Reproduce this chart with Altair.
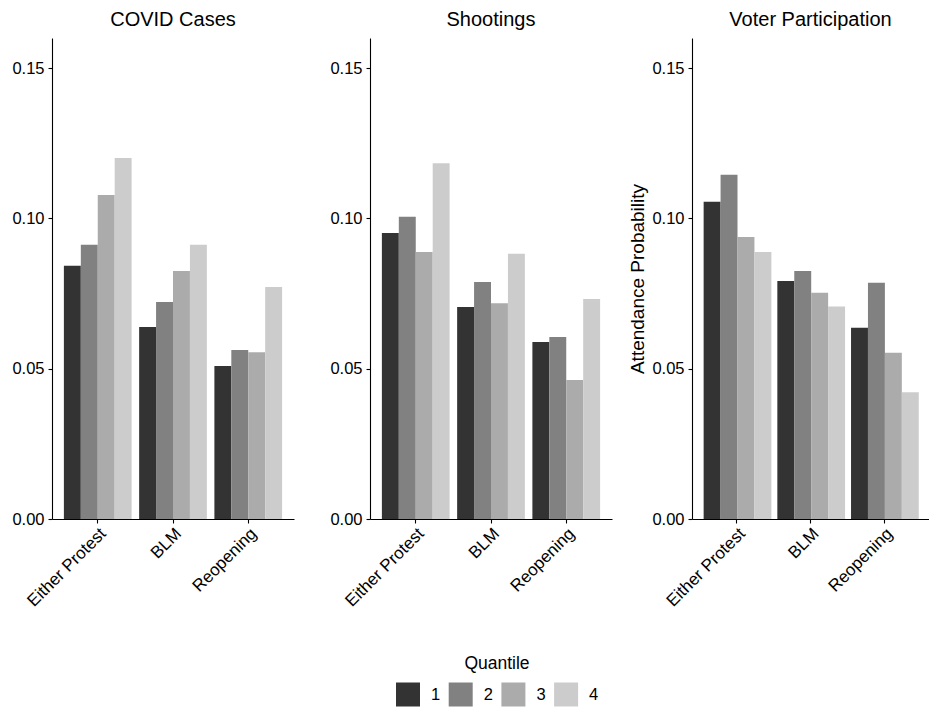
import altair as alt
import pandas as pd

panels = ["COVID Cases", "Shootings", "Voter Participation"]
categories = ["Either Protest", "BLM", "Reopening"]
quantiles = ["1", "2", "3", "4"]

covid_values = [
    [0.0842, 0.0912, 0.1078, 0.1201],
    [0.0639, 0.0722, 0.0825, 0.0912],
    [0.0509, 0.0562, 0.0555, 0.0772],
]
shooting_values = [
    [0.0951, 0.1005, 0.0888, 0.1183],
    [0.0705, 0.0788, 0.0718, 0.0882],
    [0.0589, 0.0605, 0.0462, 0.0732],
]
voter_values = [
    [0.1055, 0.1145, 0.0938, 0.0888],
    [0.0792, 0.0825, 0.0753, 0.0707],
    [0.0636, 0.0786, 0.0553, 0.0422],
]

y_ticks = [0.0, 0.05, 0.10, 0.15]
grey_colors = ["#333333", "#818181", "#ABABAB", "#CCCCCC"]

FONT = "Liberation Sans"


def make_df(values):
    rows = []
    for ci, cat in enumerate(categories):
        for qi, q in enumerate(quantiles):
            rows.append({"Category": cat, "Quantile": q, "Probability": values[ci][qi]})
    return pd.DataFrame(rows)


def panel(title, values, ytitle, min_extent, width):
    df = make_df(values)
    y_axis_kwargs = dict(values=y_ticks, format=".2f", minExtent=min_extent)
    if ytitle:
        y_axis_kwargs["title"] = ytitle
    else:
        y_axis_kwargs["title"] = None
    return (
        alt.Chart(df)
        .mark_bar()
        .encode(
            x=alt.X(
                "Category:N",
                sort=categories,
                title=None,
                scale=alt.Scale(paddingInner=0.1, paddingOuter=0.158),
                axis=alt.Axis(labelAngle=-45, labelAlign="right", labelBaseline="top"),
            ),
            xOffset=alt.XOffset("Quantile:N", sort=quantiles, scale=alt.Scale(paddingInner=0, paddingOuter=0)),
            y=alt.Y(
                "Probability:Q",
                scale=alt.Scale(domain=[0, 0.16], nice=False, zero=True),
                axis=alt.Axis(**y_axis_kwargs),
            ),
            color=alt.Color(
                "Quantile:N",
                sort=quantiles,
                scale=alt.Scale(domain=quantiles, range=grey_colors),
                legend=alt.Legend(
                    title="Quantile",
                    orient="none",
                    direction="horizontal",
                    legendX=344,
                    legendY=617,
                    titleAnchor="middle",
                    titleOrient="top",
                ),
            ),
        )
        .properties(
            width=width,
            height=481,
            title=alt.TitleParams(
                text=title,
                fontSize=20,
                font=FONT,
                fontWeight="normal",
                color="#000000",
                anchor="middle",
                baseline="alphabetic",
                offset=-8,
            ),
        )
    )


p1 = panel(panels[0], covid_values, None, 30, 242)
p2 = panel(panels[1], shooting_values, None, 60, 242)
p3 = panel(panels[2], voter_values, "Attendance Probability", 30, 237)

chart = (
    alt.hconcat(p1, p2, p3, spacing=16)
    .properties(padding={"left": 3, "top": 2, "right": 0, "bottom": 0}, background="#ffffff")
    .configure_view(stroke=None)
    .configure_axis(
        grid=False,
        domainColor="#000000",
        domainWidth=1.1,
        tickColor="#000000",
        tickWidth=1.1,
        tickSize=4,
        labelFont=FONT,
        labelFontSize=16.5,
        labelColor="#000000",
        titleFont=FONT,
        titleFontSize=19,
        titleFontWeight="normal",
        titleColor="#000000",
    )
    .configure_axisY(labelPadding=4, titlePadding=4)
    .configure_axisX(labelPadding=2, labelFontSize=17)
    .configure_legend(
        titleFont=FONT,
        titleFontSize=17.5,
        titleFontWeight="normal",
        titleColor="#000000",
        titlePadding=10,
        labelFont=FONT,
        labelFontSize=16.5,
        labelColor="#000000",
        labelOffset=11,
        columnPadding=7.7,
        symbolType="square",
        symbolSize=576,
        symbolStrokeWidth=0,
        symbolOpacity=1,
        padding=0,
    )
)

chart.save("out.html", embed_options={"renderer": "svg", "actions": False})
